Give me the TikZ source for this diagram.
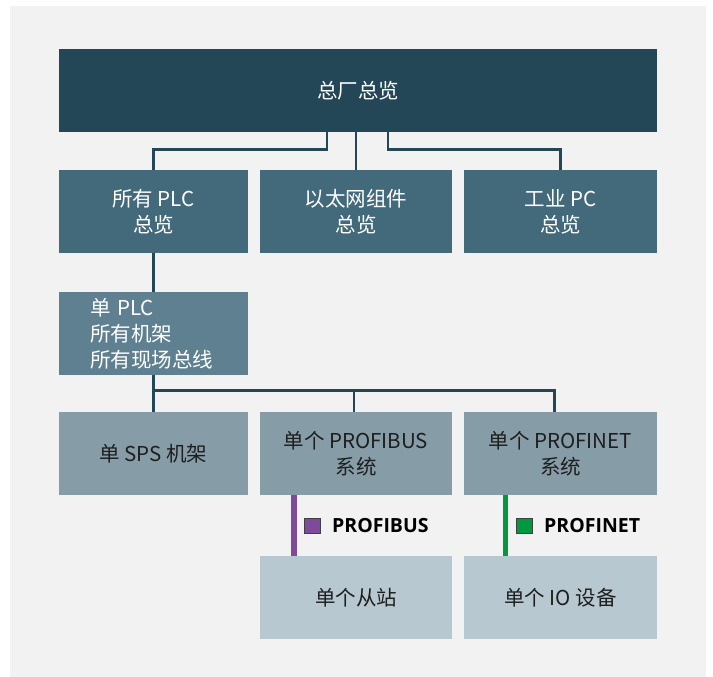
\documentclass[tikz,border=0pt]{standalone}
\usepackage{fontspec}
\setmainfont{Noto Sans CJK SC}
\newfontfamily\labfont{Open Sans}
\definecolor{bgc}{HTML}{F2F2F2}
\definecolor{c1}{HTML}{234756}
\definecolor{c2}{HTML}{436A7B}
\definecolor{c3}{HTML}{5F8090}
\definecolor{c4}{HTML}{869DA8}
\definecolor{c5}{HTML}{B7C8D0}
\definecolor{txtd}{HTML}{1E1E1E}
\definecolor{pbpurple}{HTML}{7F4A9A}
\definecolor{pngreen}{HTML}{00993F}
\tikzset{
  boxbase/.style={rectangle, inner sep=0pt, align=center, minimum height=83pt,
    font=\fontsize{20.5}{26}\selectfont},
  lvlone/.style={boxbase, fill=c1, text=white, minimum width=598pt},
  lvltwo/.style={boxbase, fill=c2, text=white},
  lvlthree/.style={boxbase, fill=c3, text=white},
  lvlfour/.style={boxbase, fill=c4, text=txtd},
  lvlfive/.style={boxbase, fill=c5, text=txtd},
  conn/.style={draw=c1, line width=2.8pt},
  bus/.style={line width=5.5pt},
  sqmark/.style={rectangle, draw=black!75, line width=0.8pt, minimum width=16pt, minimum height=15pt, inner sep=0pt},
  buslabel/.style={inner sep=0pt, anchor=west, text=black, font=\labfont\bfseries\fontsize{19.5}{22}\selectfont}
}
\begin{document}
\begin{tikzpicture}[x=1pt,y=-1pt]
\useasboundingbox (0,0) rectangle (713,677);
\fill[white] (0,0) rectangle (713,677);
\fill[bgc] (10,6) rectangle (706,677);

\node[lvlone] (top) at (358,90.5) {总厂总览};

\node[lvltwo, minimum width=189pt] (plcs) at (153.5,211.5) {所有 PLC\\总览};
\node[lvltwo, minimum width=192pt] (eth) at (356,211.5) {以太网组件\\总览};
\node[lvltwo, minimum width=193pt] (ipc) at (560.5,211.5) {工业 PC\\总览};

\node[lvlthree, minimum width=189pt, inner xsep=31pt, text width=127pt, align=left] (single) at (153.5,333.5) {单 PLC\\所有机架\\所有现场总线};

\node[lvlfour, minimum width=189pt] (rack) at (153.5,453.5) {单 SPS 机架};
\node[lvlfour, minimum width=192pt] (pbsys) at (356,453.5) {单个 PROFIBUS\\系统};
\node[lvlfour, minimum width=193pt] (pnsys) at (560.5,453.5) {单个 PROFINET\\系统};

\node[lvlfive, minimum width=192pt] (slave) at (356,597.5) {单个从站};
\node[lvlfive, minimum width=193pt] (iodev) at (560.5,597.5) {单个 IO 设备};

% connectors level 1 -> 2
\draw[conn] ([xshift=-31pt]top.south) |- ([yshift=20pt]plcs.north) -- (plcs.north);
\draw[conn] (top.south -| eth.north) -- (eth.north);
\draw[conn] ([xshift=30pt]top.south) |- ([yshift=20pt]ipc.north) -- (ipc.north);
% level 2 -> 3
\draw[conn] (plcs.south) -- (single.north);
% level 3 -> 4
\draw[conn] (single.south) -- (rack.north);
\draw[conn] ([yshift=-15pt]single.south) -| ([xshift=-2pt]pbsys.north);
\draw[conn] ([yshift=-15pt]single.south) -| ([xshift=-6pt]pnsys.north);

% field buses
\draw[bus, pbpurple] ([xshift=-62pt]pbsys.south) -- ([xshift=-62pt]slave.north);
\draw[bus, pngreen] ([xshift=-55pt]pnsys.south) -- ([xshift=-55pt]iodev.north);

\node[sqmark, fill=pbpurple] (pbsq) at (312.5,526) {};
\node[buslabel] (pblab) at (332,526) {PROFIBUS};
\node[sqmark, fill=pngreen] (pnsq) at (524.5,526) {};
\node[buslabel] (pnlab) at (544,526) {PROFINET};
\end{tikzpicture}
\end{document}
